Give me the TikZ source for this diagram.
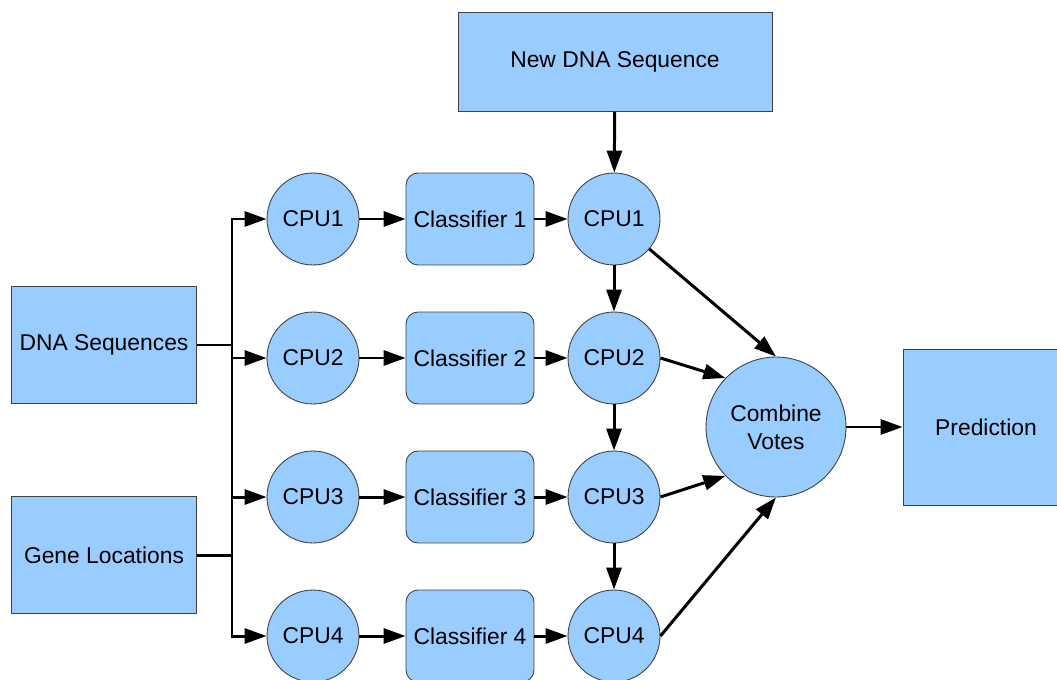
\documentclass[tikz,border=0pt]{standalone}
\usepackage{fontspec}
\setmainfont{Liberation Sans}
\usetikzlibrary{arrows.meta}
\definecolor{boxblue}{RGB}{153,204,255}
\begin{document}
\begin{tikzpicture}[x=0.02cm, y=-0.02cm,
		font=\fontsize{13}{16}\selectfont,
		box/.style={draw=black!75, line width=0.5pt, fill=boxblue, align=center, inner sep=0pt},
		cpu/.style={box, circle, minimum size=1.84cm},
		clf/.style={box, rounded corners=0.24cm, minimum width=2.56cm, minimum height=1.84cm},
		link/.style={line width=1.7pt},
		arr/.style={link, -{Triangle[length=0.44cm, width=0.3cm]}}]
		\useasboundingbox (0,0) rectangle (1057,679);
		\node[box, minimum width=6.28cm, minimum height=1.98cm] (newseq) at (615,62) {New DNA Sequence};
		\node[box, minimum width=3.7cm, minimum height=2.34cm] (dna) at (104,345) {DNA Sequences};
		\node[box, minimum width=3.7cm, minimum height=2.34cm] (genes) at (104,555) {Gene Locations};
		\node[cpu, minimum size=2.8cm] (comb) at (776,427) {Combine\\Votes};
		\node[box, minimum width=3.32cm, minimum height=3.12cm] (pred) at (986,427) {Prediction};
		% one row per processor
		\foreach \i/\y in {1/219,2/358,3/497,4/636} {
			\coordinate (bus\i) at (232,\y);
			\node[cpu] (cpuL\i) at (313,\y) {CPU\i};
			\node[clf] (clf\i) at (470,\y) {Classifier \i};
			\node[cpu] (cpuR\i) at (614,\y) {CPU\i};
			\draw[arr] (bus\i) -- (cpuL\i);
			\draw[arr] (cpuL\i) -- (clf\i);
			\draw[arr] (clf\i) -- (cpuR\i);
		}
		\draw[link, line cap=rect] (bus1) -- (bus4);
		\draw[link] (dna.east) -- (dna.east -| bus1);
		\draw[link] (genes.east) -- (genes.east -| bus1);
		\draw[arr] (newseq) -- (cpuR1);
		\foreach \i/\j in {1/2,2/3,3/4}
			\draw[arr] (cpuR\i) -- (cpuR\j);
		\draw[arr] (cpuR1) -- (comb.north);
		\draw[arr] (cpuR2.east) -- (comb.136);
		\draw[arr] (cpuR3.east) -- (comb.224);
		\draw[arr] (cpuR4.east) -- (comb.south);
		\draw[arr] (comb) -- (pred);
	\end{tikzpicture}
\end{document}
